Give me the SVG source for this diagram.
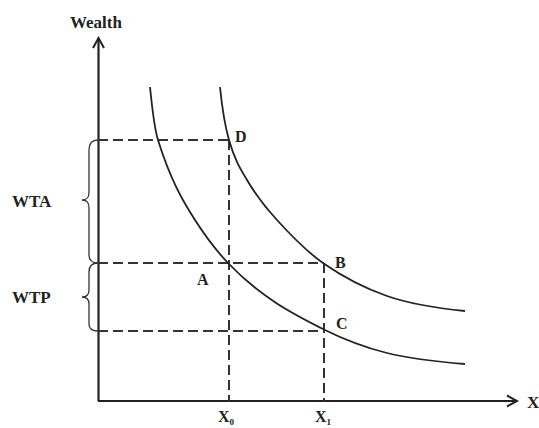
<svg xmlns="http://www.w3.org/2000/svg" width="539" height="428" viewBox="0 0 539 428">
  <style>
    .lbl { font-family: "Liberation Serif", "Times New Roman", serif; font-weight: bold; font-size: 17px; fill: #222; }
    .pt { font-family: "Liberation Serif", "Times New Roman", serif; font-weight: bold; font-size: 16px; fill: #222; }
    .axis { stroke: #222; stroke-width: 2.2; fill: none; }
    .curve { stroke: #222; stroke-width: 1.8; fill: none; }
    .dash { stroke: #333; stroke-width: 2; fill: none; stroke-dasharray: 10 5; }
    .brace { stroke: #333; stroke-width: 1.3; fill: none; }
  </style>
  <defs>
    <marker id="arrow" markerUnits="userSpaceOnUse" markerWidth="14" markerHeight="14" viewBox="-11 -7 13 14" refX="0" refY="0" orient="auto">
      <path d="M-10,-5.5 L0,0 L-10,5.5" fill="none" stroke="#222" stroke-width="2"/>
    </marker>
  </defs>
  <rect width="539" height="428" fill="#ffffff"/>

  <g id="connectors">
    <path id="y-axis" class="axis" d="M98.5,401 L98.5,38" marker-end="url(#arrow)"/>
    <path id="x-axis" class="axis" d="M98,401 L517,401" marker-end="url(#arrow)"/>
    <path class="dash" d="M98,140 L229,140 M229,140 L229,401"/>
    <path class="dash" d="M98,263 L324,263 M324,263 L324,401"/>
    <path class="dash" d="M98,331 L324,331"/>
    <path class="brace" d="M98,140 C92,140 89,143 89,150 L89,192 C89,198 87,200 82,200 C87,200 89,202 89,208 L89,255 C89,261 92,263 98,263"/>
    <path class="brace" d="M98,263 C92,263 89,266 89,272 L89,290 C89,295 87,297 82,297 C87,297 89,299 89,304 L89,324 C89,329 92,331 98,331"/>
  </g>

  <g id="curve-lower">
    <path class="curve" d="M150,87 C152.67,113.7 155.33,131.5 158,140 C170.33,179.5 182.67,200.9 195,220 C206,237.1 217,251.45 228,263 C260.33,296.95 292.67,313.83 325,330 C345.67,340.33 366.33,347.83 387,353 C413,359.5 439,361.92 465,364"/>
  </g>
  <g id="curve-upper">
    <path class="curve" d="M220,87 C223,117 226,129.5 229,140 C235,161 241,169.8 247,180 C257,197 267,209 277,220 C292.33,236.87 307.67,252.27 323,263 C344.33,277.93 365.67,288.53 387,296 C413,305.1 439,308.4 465,311"/>
  </g>

  <g id="label-wealth"><text class="lbl" x="96" y="28" text-anchor="middle">Wealth</text></g>
  <g id="label-x"><text class="lbl" x="527" y="408">X</text></g>
  <g id="label-wta"><text class="lbl" x="12" y="207">WTA</text></g>
  <g id="label-wtp"><text class="lbl" x="12" y="303">WTP</text></g>
  <g id="point-d"><text class="pt" x="235" y="142">D</text></g>
  <g id="point-a"><text class="pt" x="197" y="285" font-size="15">A</text></g>
  <g id="point-b"><text class="pt" x="335" y="268">B</text></g>
  <g id="point-c"><text class="pt" x="336" y="329">C</text></g>
  <g id="label-x0"><text class="pt" x="218" y="422">X<tspan font-size="9" dy="3">0</tspan></text></g>
  <g id="label-x1"><text class="pt" x="315" y="422">X<tspan font-size="9" dy="3">1</tspan></text></g>
</svg>
